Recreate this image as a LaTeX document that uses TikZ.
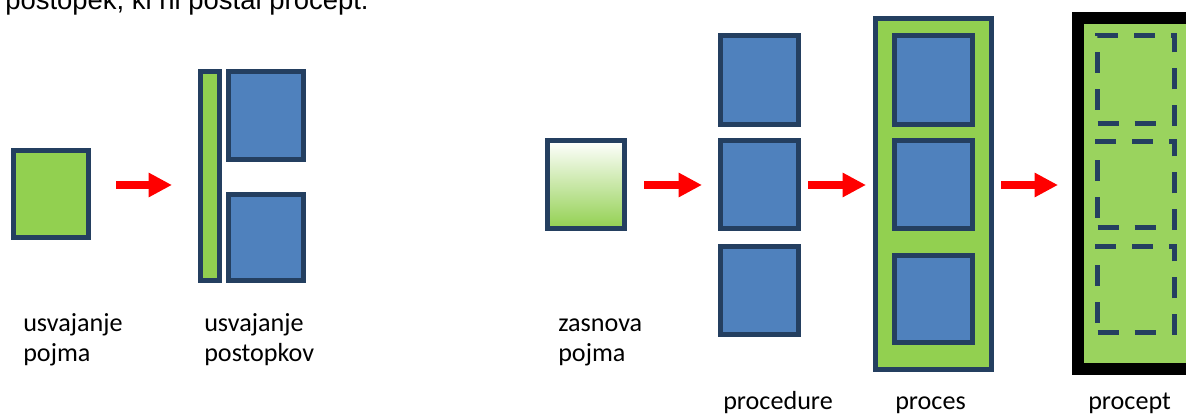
\documentclass[tikz,border=0pt]{standalone}
\usepackage{fontspec}
\setmainfont{Carlito}
\newfontfamily\arialf{Liberation Sans}
\usetikzlibrary{arrows.meta}
\definecolor{navy}{HTML}{243F60}
\definecolor{boxblue}{HTML}{4F81BD}
\definecolor{boxgreen}{HTML}{92D050}
\definecolor{lightgreen}{HTML}{9AD35E}
\definecolor{arrred}{HTML}{FF0000}
\tikzset{
  bluebox/.style={draw=navy, line width=3.75pt, fill=boxblue, rectangle, inner sep=0pt},
  greenbox/.style={draw=navy, line width=3.75pt, fill=boxgreen, rectangle, inner sep=0pt},
  dashbox/.style={draw=navy, line width=3.75pt, dash pattern=on 15.75pt off 12pt, rectangle, inner sep=0pt},
  frame/.style={draw=black, line width=9pt, fill=lightgreen, rectangle, inner sep=0pt},
  redarrow/.style={draw=arrred, line width=5.6pt, -{Triangle[length=17.6pt, width=17.3pt]}},
  lbl/.style={anchor=base west, inner sep=0pt, font=\fontsize{19.6}{22.5}\selectfont},
  wh/.style n args={2}{minimum width={#1*0.75pt}, minimum height={#2*0.75pt}}
}
\begin{document}
\begin{tikzpicture}[x=0.75pt, y=-0.75pt]
\clip (0,0) rectangle (1186,416);
\fill[white] (0,0) rectangle (1186,416);

% title (cut off at top)
\node[anchor=base west, inner sep=0pt, font=\arialf\fontsize{20.6}{24}\selectfont] (title) at (5,9.3) {postopek, ki ni postal procept.};

% --- left group
\node[greenbox, wh={75}{87}] (c1) at (51,194) {};
\node[greenbox, wh={19}{209}] (bar) at (210,176) {};
\node[bluebox, wh={75}{88}] (b1) at (266,115.5) {};
\node[bluebox, wh={75}{86}] (b2) at (266,237.5) {};

% --- gradient box
\node[draw=navy, line width=3.75pt, inner sep=0pt, top color=white, bottom color=boxgreen, wh={77}{88}] (g) at (586,184.5) {};

% --- procedure
\node[bluebox, wh={78}{89}] (p1) at (759.5,80) {};
\node[bluebox, wh={78}{88}] (p2) at (759.5,184.5) {};
\node[bluebox, wh={78}{88}] (p3) at (759.5,290.5) {};

% --- proces
\node[greenbox, wh={116}{351}] (pr) at (933.5,194) {};
\node[bluebox, wh={78}{89}] (q1) at (933.5,80) {};
\node[bluebox, wh={78}{88}] (q2) at (933.5,184.5) {};
\node[bluebox, wh={78}{87}] (q3) at (933.5,299) {};

% --- procept
\node[frame, wh={116}{351}] (pc) at (1136,193.5) {};
\node[dashbox, wh={77}{88}] (d1) at (1136,79.5) {};
\node[dashbox, wh={77}{86}] (d2) at (1136,184.5) {};
\node[dashbox, wh={77}{86}] (d3) at (1136,289.5) {};

% --- arrows
\coordinate (a1s) at (116,185); \coordinate (a1e) at (172,185);
\coordinate (a2s) at (644,185); \coordinate (a2e) at (702,185);
\coordinate (a3s) at (808,185); \coordinate (a3e) at (866,185);
\coordinate (a4s) at (1001,185); \coordinate (a4e) at (1058,185);
\draw[redarrow] (a1s) -- (a1e);
\draw[redarrow] (a2s) -- (a2e);
\draw[redarrow] (a3s) -- (a3e);
\draw[redarrow] (a4s) -- (a4e);

% --- labels
\node[lbl] (l1) at (23,332) {\begin{tabular}[t]{@{}l@{}}usvajanje\\pojma\end{tabular}};
\node[lbl] (l2) at (204,332) {\begin{tabular}[t]{@{}l@{}}usvajanje\\postopkov\end{tabular}};
\node[lbl] (l3) at (558,332) {\begin{tabular}[t]{@{}l@{}}zasnova\\pojma\end{tabular}};
\node[lbl] (l4) at (723,410) {procedure};
\node[lbl] (l5) at (895,410) {proces};
\node[lbl] (l6) at (1088,410) {procept};
\end{tikzpicture}
\end{document}
